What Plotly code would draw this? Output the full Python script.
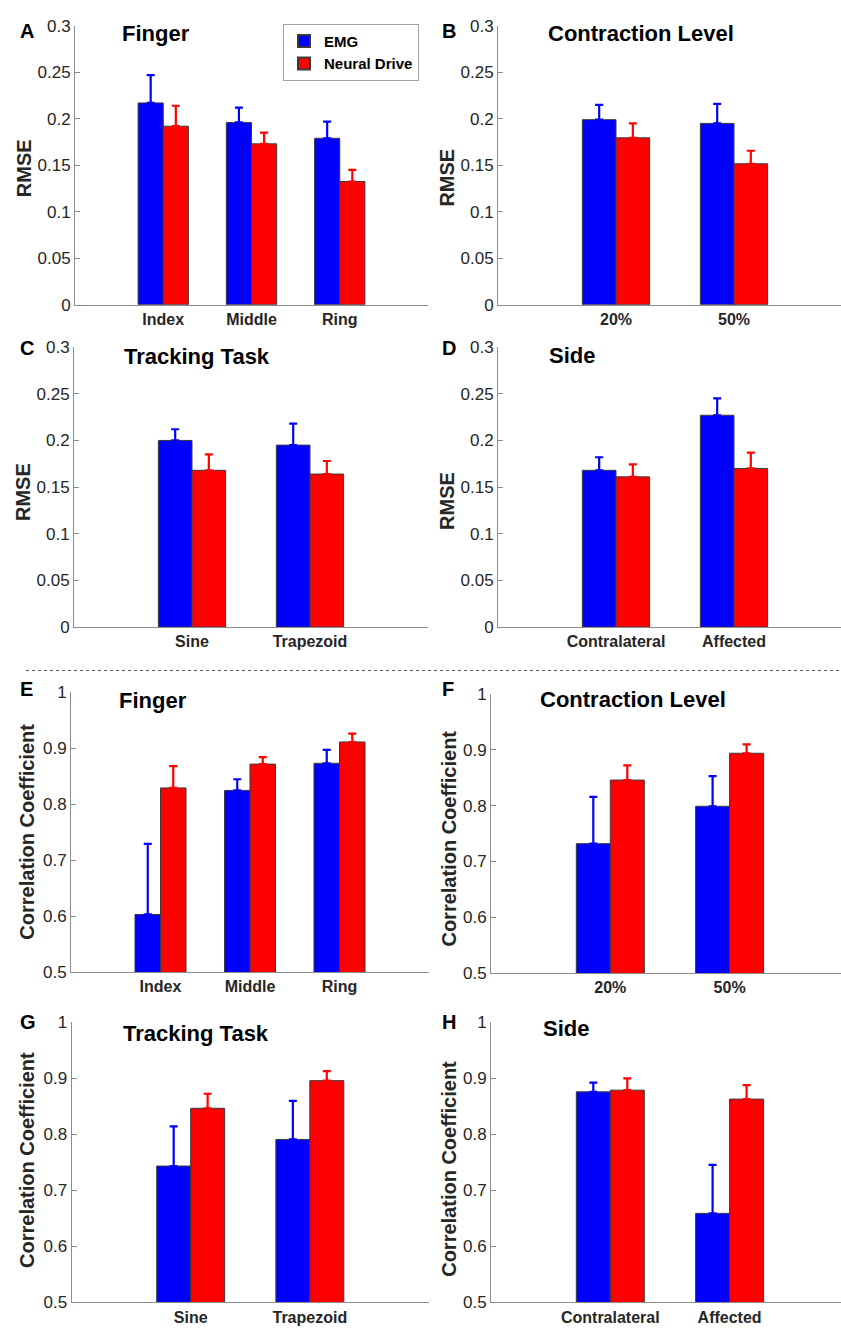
import plotly.graph_objects as go

W, H = 841, 1339

# ---------------- data ----------------
finger_cats = ["Index", "Middle", "Ring"]
level_cats = ["20%", "50%"]
task_cats = ["Sine", "Trapezoid"]
side_cats = ["Contralateral", "Affected"]
series_names = ["EMG", "Neural Drive"]

rmse_finger_emg = [0.217, 0.196, 0.179]
rmse_finger_emg_err = [0.030, 0.016, 0.018]
rmse_finger_nd = [0.192, 0.173, 0.1325]
rmse_finger_nd_err = [0.022, 0.012, 0.0125]

rmse_level_emg = [0.199, 0.195]
rmse_level_emg_err = [0.016, 0.021]
rmse_level_nd = [0.1795, 0.1516]
rmse_level_nd_err = [0.0155, 0.014]

rmse_task_emg = [0.200, 0.195]
rmse_task_emg_err = [0.012, 0.023]
rmse_task_nd = [0.168, 0.164]
rmse_task_nd_err = [0.017, 0.014]

rmse_side_emg = [0.168, 0.227]
rmse_side_emg_err = [0.014, 0.018]
rmse_side_nd = [0.161, 0.170]
rmse_side_nd_err = [0.0134, 0.017]

cc_finger_emg = [0.603, 0.8245, 0.873]
cc_finger_emg_err = [0.126, 0.020, 0.024]
cc_finger_nd = [0.829, 0.8715, 0.911]
cc_finger_nd_err = [0.039, 0.0125, 0.015]

cc_level_emg = [0.732, 0.799]
cc_level_emg_err = [0.084, 0.054]
cc_level_nd = [0.846, 0.894]
cc_level_nd_err = [0.0265, 0.016]

cc_task_emg = [0.7435, 0.791]
cc_task_emg_err = [0.071, 0.069]
cc_task_nd = [0.8466, 0.896]
cc_task_nd_err = [0.026, 0.017]

cc_side_emg = [0.876, 0.659]
cc_side_emg_err = [0.0165, 0.0865]
cc_side_nd = [0.879, 0.863]
cc_side_nd_err = [0.021, 0.025]

rmse_ticks = [0, 0.05, 0.1, 0.15, 0.2, 0.25, 0.3]
rmse_ticktext = ["0", "0.05", "0.1", "0.15", "0.2", "0.25", "0.3"]
cc_ticks = [0.5, 0.6, 0.7, 0.8, 0.9, 1.0]
cc_ticktext = ["0.5", "0.6", "0.7", "0.8", "0.9", "1"]

# ---------------- layout helpers ----------------
FONT = "Liberation Sans, Arial, sans-serif"
BLUE = "#0000FF"
RED = "#FF0000"
AXC = "#8c8c8c"
TXT = "#262626"


def fx(px):
    return px / W


def fy(py):
    return 1 - py / H


panels = [
    dict(letter="A", title="Finger", cats=finger_cats,
         emg=rmse_finger_emg, emg_err=rmse_finger_emg_err,
         nd=rmse_finger_nd, nd_err=rmse_finger_nd_err,
         box=(75, 428, 17, 300), xmax=4.0, metric="rmse",
         tpos=(120, 25), lpos=(18, 22), ypos=(23.5, 162)),
    dict(letter="B", title="Contraction Level", cats=level_cats,
         emg=rmse_level_emg, emg_err=rmse_level_emg_err,
         nd=rmse_level_nd, nd_err=rmse_level_nd_err,
         box=(498, 841, 17, 300), xmax=(841 - 498) / 118.0, metric="rmse",
         tpos=(546, 25), lpos=(440, 22), ypos=(447, 171)),
    dict(letter="C", title="Tracking Task", cats=task_cats,
         emg=rmse_task_emg, emg_err=rmse_task_emg_err,
         nd=rmse_task_nd, nd_err=rmse_task_nd_err,
         box=(74, 428, 343, 627), xmax=3.0, metric="rmse",
         tpos=(122, 352), lpos=(18, 344), ypos=(23, 490)),
    dict(letter="D", title="Side", cats=side_cats,
         emg=rmse_side_emg, emg_err=rmse_side_emg_err,
         nd=rmse_side_nd, nd_err=rmse_side_nd_err,
         box=(498, 841, 343, 627), xmax=(841 - 498) / 118.0, metric="rmse",
         tpos=(547, 351), lpos=(440, 344), ypos=(447, 499)),
    dict(letter="E", title="Finger", cats=finger_cats,
         emg=cc_finger_emg, emg_err=cc_finger_emg_err,
         nd=cc_finger_nd, nd_err=cc_finger_nd_err,
         box=(71, 429, 693, 977), xmax=4.0, metric="cc",
         tpos=(117, 701), lpos=(18, 690), ypos=(27.5, 835)),
    dict(letter="F", title="Contraction Level", cats=level_cats,
         emg=cc_level_emg, emg_err=cc_level_emg_err,
         nd=cc_level_nd, nd_err=cc_level_nd_err,
         box=(491, 841, 695, 978), xmax=(841 - 491) / 119.3, metric="cc",
         tpos=(538, 700), lpos=(440, 690), ypos=(449.5, 841)),
    dict(letter="G", title="Tracking Task", cats=task_cats,
         emg=cc_task_emg, emg_err=cc_task_emg_err,
         nd=cc_task_nd, nd_err=cc_task_nd_err,
         box=(71.5, 429, 1028, 1312), xmax=3.0, metric="cc",
         tpos=(121, 1039), lpos=(18, 1028), ypos=(27.5, 1168)),
    dict(letter="H", title="Side", cats=side_cats,
         emg=cc_side_emg, emg_err=cc_side_emg_err,
         nd=cc_side_nd, nd_err=cc_side_nd_err,
         box=(491, 841, 1028, 1312), xmax=(841 - 491) / 119.3, metric="cc",
         tpos=(541, 1034), lpos=(440, 1028), ypos=(449.5, 1176)),
]

fig = go.Figure()
annotations = []
layout_axes = {}

for i, p in enumerate(panels, start=1):
    xa = "x" if i == 1 else f"x{i}"
    ya = "y" if i == 1 else f"y{i}"
    xpos = list(range(1, len(p["cats"]) + 1))
    for name, vals, errs, col in [
        (series_names[0], p["emg"], p["emg_err"], BLUE),
        (series_names[1], p["nd"], p["nd_err"], RED),
    ]:
        fig.add_trace(go.Bar(
            x=xpos, y=vals, name=name, xaxis=xa, yaxis=ya,
            marker=dict(color=col, line=dict(color="#3a3a3a", width=1)),
            error_y=dict(type="data", symmetric=False, array=errs,
                         arrayminus=[0] * len(errs), color=col,
                         thickness=2.2, width=4),
            showlegend=(i == 1), legendgroup=name,
            hovertemplate=f"{name}: %{{y}}<extra></extra>",
        ))
    x0, x1, y0, y1 = p["box"]
    if p["metric"] == "rmse":
        yr, tv, tt = [0, 0.3], rmse_ticks, rmse_ticktext
        ytitle = "RMSE"
    else:
        yr, tv, tt = [0.5, 1.0], cc_ticks, cc_ticktext
        ytitle = "Correlation Coefficient"
    kx = "xaxis" if i == 1 else f"xaxis{i}"
    ky = "yaxis" if i == 1 else f"yaxis{i}"
    layout_axes[kx] = dict(
        domain=[fx(x0), fx(x1)], anchor=ya, range=[0, p["xmax"]],
        tickvals=xpos, ticktext=p["cats"], ticks="",
        showline=True, linecolor=AXC, linewidth=1, showgrid=False,
        zeroline=False, fixedrange=True,
        tickfont=dict(family=FONT, size=16, color=TXT, weight="bold"),
    )
    layout_axes[ky] = dict(
        domain=[fy(y1), fy(y0)], anchor=xa, range=yr,
        tickvals=tv, ticktext=tt, ticks="inside", ticklen=5,
        tickcolor=AXC, tickwidth=1,
        showline=True, linecolor=AXC, linewidth=1, showgrid=False,
        zeroline=False, fixedrange=True,
        tickfont=dict(family=FONT, size=17, color=TXT),
    )
    annotations.append(dict(
        text=p["title"], x=fx(p["tpos"][0]), y=fy(p["tpos"][1]),
        xref="paper", yref="paper", xanchor="left", yanchor="middle",
        showarrow=False,
        font=dict(family=FONT, size=22, color="black", weight="bold")))
    annotations.append(dict(
        text=p["letter"], x=fx(p["lpos"][0]), y=fy(p["lpos"][1]),
        xref="paper", yref="paper", xanchor="left", yanchor="middle",
        showarrow=False,
        font=dict(family=FONT, size=20, color="black", weight="bold")))
    annotations.append(dict(
        text=ytitle, x=fx(p["ypos"][0]), y=fy(p["ypos"][1]),
        xref="paper", yref="paper", xanchor="center", yanchor="middle",
        textangle=-90, showarrow=False,
        font=dict(family=FONT, size=20, color=TXT, weight="bold")))

fig.update_layout(
    width=W, height=H, margin=dict(l=0, r=0, t=0, b=0),
    paper_bgcolor="white", plot_bgcolor="white",
    barmode="group", bargap=0.43, bargroupgap=0,
    showlegend=True,
    legend=dict(x=fx(419), y=fy(15), xanchor="right", yanchor="top",
                bgcolor="white", bordercolor="#a0a0a0", borderwidth=1,
                font=dict(family=FONT, size=15, color="black", weight="bold"),
                tracegroupgap=0, itemsizing="constant"),
    annotations=annotations,
    shapes=[dict(type="line", xref="paper", yref="paper",
                 x0=fx(26), x1=1, y0=fy(671), y1=fy(671),
                 line=dict(color="#555555", width=1, dash="3px,3px"))],
    **layout_axes,
)

fig.write_html(
    "out.html",
    config={"displayModeBar": False},
    post_script="document.body.style.margin='0';"
                "document.body.style.padding='0';"
                "document.body.style.overflow='hidden';",
)
